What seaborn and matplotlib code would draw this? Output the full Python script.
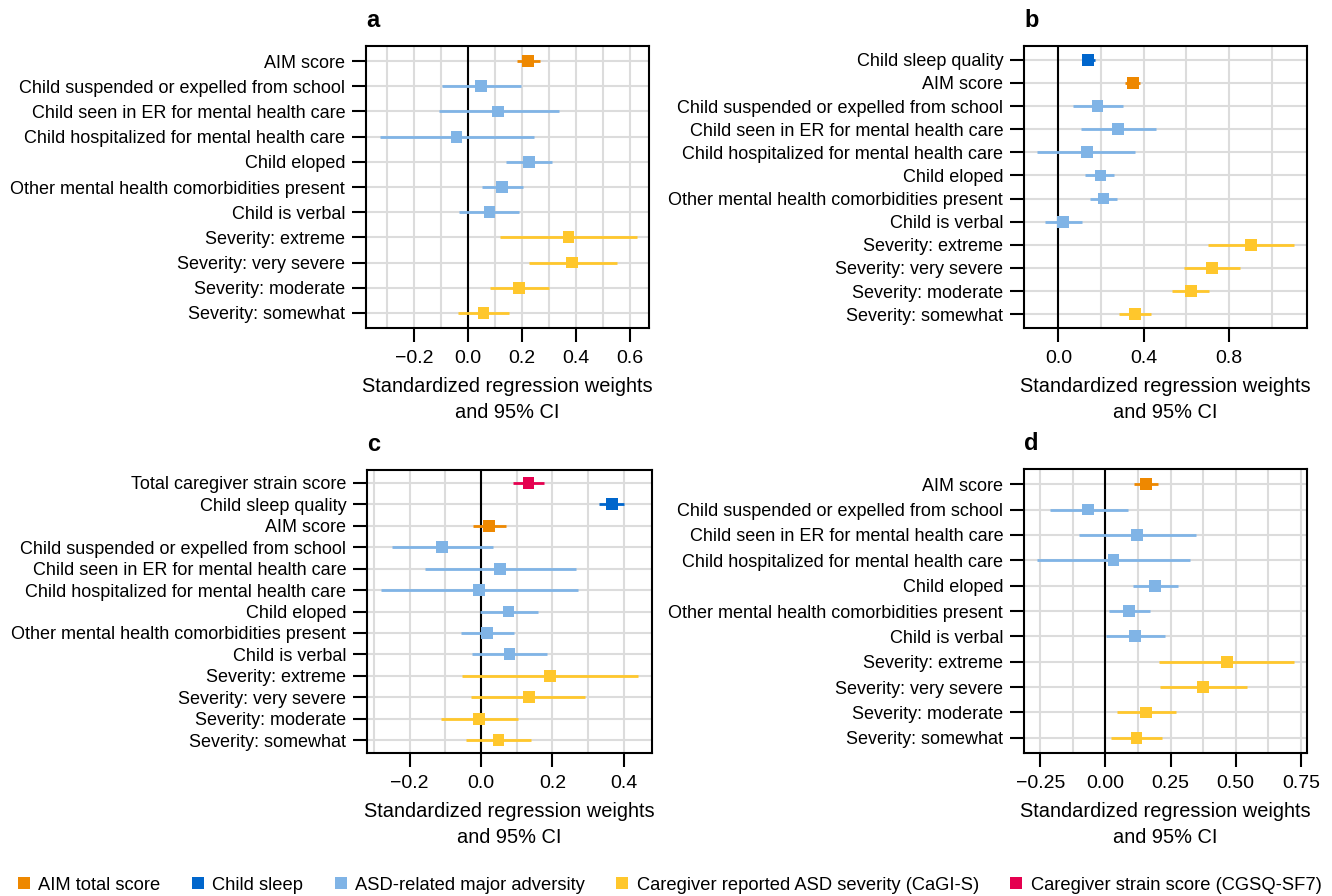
import numpy as np
import pandas as pd
import matplotlib
matplotlib.use('Agg')
import matplotlib.pyplot as plt
from matplotlib.lines import Line2D
import seaborn as sns

# Row labels
lab_strain = 'Total caregiver strain score'
lab_sleep = 'Child sleep quality'
adversity_labels = ['AIM score',
                    'Child suspended or expelled from school',
                    'Child seen in ER for mental health care',
                    'Child hospitalized for mental health care',
                    'Child eloped',
                    'Other mental health comorbidities present',
                    'Child is verbal',
                    'Severity: extreme',
                    'Severity: very severe',
                    'Severity: moderate',
                    'Severity: somewhat']
adversity_groups = ['AIM'] + ['ASD'] * 6 + ['SEV'] * 4

# Panel a
a_labels = adversity_labels
a_groups = adversity_groups
a_est = [0.223, 0.049, 0.112, -0.043, 0.227, 0.127, 0.079, 0.372, 0.386, 0.190, 0.057]
a_lo = [0.180, -0.098, -0.107, -0.328, 0.142, 0.051, -0.032, 0.119, 0.226, 0.080, -0.036]
a_hi = [0.267, 0.195, 0.335, 0.243, 0.311, 0.204, 0.189, 0.625, 0.551, 0.299, 0.153]

# Panel b
b_labels = [lab_sleep] + adversity_labels
b_groups = ['SLEEP'] + adversity_groups
b_est = [0.140, 0.349, 0.183, 0.281, 0.133, 0.197, 0.211, 0.023, 0.903, 0.721, 0.621, 0.360]
b_lo = [0.114, 0.314, 0.069, 0.106, -0.098, 0.126, 0.150, -0.062, 0.702, 0.588, 0.534, 0.284]
b_hi = [0.170, 0.382, 0.301, 0.456, 0.360, 0.262, 0.273, 0.112, 1.106, 0.849, 0.708, 0.435]

# Panel c
c_labels = [lab_strain, lab_sleep] + adversity_labels
c_groups = ['STRAIN', 'SLEEP'] + adversity_groups
c_est = [0.133, 0.366, 0.023, -0.108, 0.054, -0.005, 0.077, 0.018, 0.080, 0.194, 0.134, -0.005, 0.049]
c_lo = [0.090, 0.331, -0.022, -0.250, -0.157, -0.280, -0.004, -0.056, -0.025, -0.052, -0.027, -0.112, -0.043]
c_hi = [0.177, 0.400, 0.069, 0.033, 0.266, 0.272, 0.159, 0.093, 0.184, 0.439, 0.292, 0.105, 0.140]

# Panel d
d_labels = adversity_labels
d_groups = adversity_groups
d_est = [0.157, -0.066, 0.121, 0.031, 0.191, 0.091, 0.114, 0.467, 0.375, 0.157, 0.119]
d_lo = [0.110, -0.215, -0.102, -0.262, 0.104, 0.013, 0.003, 0.205, 0.210, 0.043, 0.020]
d_hi = [0.203, 0.086, 0.349, 0.325, 0.277, 0.170, 0.229, 0.725, 0.543, 0.269, 0.216]

palette = {'AIM': '#EE8800', 'SLEEP': '#0066CC', 'ASD': '#80B4E6',
           'SEV': '#FFC72C', 'STRAIN': '#E5004F'}
legend_names = {'AIM': 'AIM total score', 'SLEEP': 'Child sleep',
                'ASD': 'ASD-related major adversity',
                'SEV': 'Caregiver reported ASD severity (CaGI-S)',
                'STRAIN': 'Caregiver strain score (CGSQ-SF7)'}

sns.set_theme(style='white')
plt.rcParams['font.family'] = ['Liberation Sans', 'DejaVu Sans']
plt.rcParams['text.color'] = 'black'
plt.rcParams['axes.labelcolor'] = 'black'
plt.rcParams['xtick.color'] = 'black'
plt.rcParams['ytick.color'] = 'black'

W, H = 1332, 896
fig = plt.figure(figsize=(W / 100, H / 100), dpi=100)


def forest(rect, letter, labels, groups, est, lo, hi, xlim, major, minor):
    ax = fig.add_axes(rect)
    df = pd.DataFrame({'label': labels, 'group': groups, 'est': est, 'lo': lo, 'hi': hi})
    df['pos'] = np.arange(len(df))
    ax.set_xticks(major)
    ax.set_xticks(minor, minor=True)
    ax.set_yticks(df['pos'])
    ax.set_yticklabels(df['label'])
    ax.grid(which='both', color='#DCDCDC', lw=1.5, zorder=0)
    ax.axvline(0, color='black', lw=1.5, zorder=1)
    ax.hlines(df['pos'], df['lo'], df['hi'], colors=[palette[g] for g in df['group']],
              lw=2.0, zorder=2)
    sns.scatterplot(data=df, x='est', y='pos', hue='group', palette=palette, marker='s',
                    s=72, linewidth=0, legend=False, ax=ax, zorder=3)
    ax.set_xlim(xlim)
    ax.set_ylim(len(df) - 0.4, -0.6)
    ax.set_ylabel('')
    ax.set_xlabel('Standardized regression weights\nand 95% CI', fontsize=14.4,
                  labelpad=7, linespacing=1.45)
    ax.tick_params(axis='both', which='major', length=10, width=1.5,
                   color='black', left=True, bottom=True)
    ax.tick_params(axis='y', pad=5, labelsize=13.0)
    ax.tick_params(axis='x', pad=6, labelsize=14)
    ax.tick_params(which='minor', length=0)
    for sp in ax.spines.values():
        sp.set_color('black')
        sp.set_linewidth(1.5)
    fig.text(rect[0], rect[1] + rect[3] + 0.028, letter, fontsize=17, fontweight='bold',
             ha='left', va='center')
    return ax


forest([366 / W, 1 - 328 / H, 283 / W, 282 / H], 'a', a_labels, a_groups, a_est, a_lo, a_hi,
       (-0.378, 0.670), [-0.2, 0.0, 0.2, 0.4, 0.6], np.arange(-0.3, 0.65, 0.1))
forest([1024 / W, 1 - 328 / H, 283 / W, 282 / H], 'b', b_labels, b_groups, b_est, b_lo, b_hi,
       (-0.161, 1.165), [0.0, 0.4, 0.8], np.arange(0.0, 1.15, 0.2))
forest([367 / W, 1 - 753 / H, 285 / W, 283 / H], 'c', c_labels, c_groups, c_est, c_lo, c_hi,
       (-0.319, 0.479), [-0.2, 0.0, 0.2, 0.4], np.arange(-0.3, 0.45, 0.1))
forest([1024 / W, 1 - 753 / H, 283 / W, 284 / H], 'd', d_labels, d_groups, d_est, d_lo, d_hi,
       (-0.313, 0.774), [-0.25, 0.0, 0.25, 0.5, 0.75], np.arange(-0.25, 0.76, 0.125))

fig.axes[3].set_xticklabels(['\u22120.25', '0.00', '0.25', '0.50', '0.75'])

handles = [Line2D([], [], ls='', marker='s', markersize=8, markeredgewidth=0, color=palette[k])
           for k in legend_names]
fig.legend(handles, list(legend_names.values()), loc='center left', ncol=5,
           bbox_to_anchor=(0.006, 1 - 885 / H), frameon=False, fontsize=13.2,
           handlelength=0.7, handletextpad=0.45, columnspacing=1.68, borderpad=0)

fig.savefig('out.png', dpi=100)
